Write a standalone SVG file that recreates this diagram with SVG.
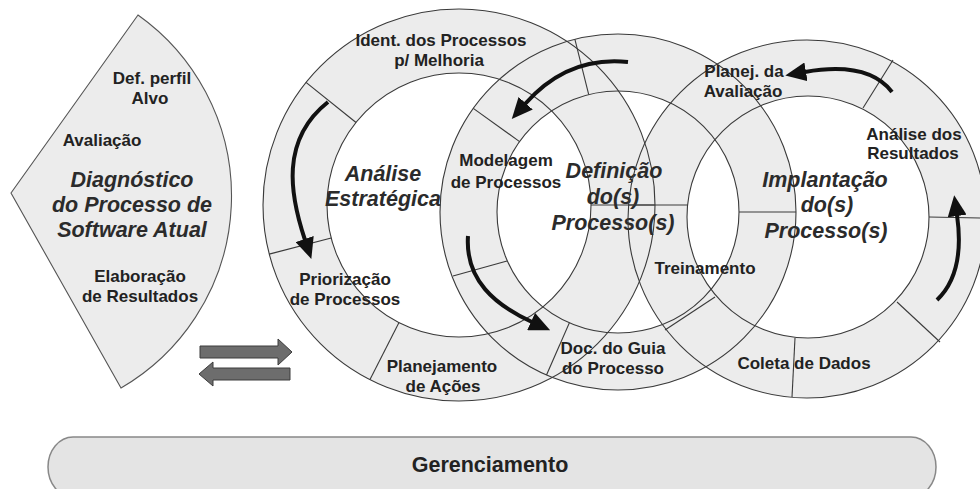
<svg xmlns="http://www.w3.org/2000/svg" width="980" height="489" viewBox="0 0 980 489">
<defs>
<style>
.band{fill:#ececec;fill-rule:evenodd;stroke:none}
.ol{fill:none;stroke:#3a3a3a;stroke-width:1.1}
.dv{stroke:#3a3a3a;stroke-width:1.1}
.lbl{font-family:"Liberation Sans",Arial,sans-serif;font-weight:bold;font-size:17px;fill:#222;text-anchor:middle}
.ttl{font-family:"Liberation Sans",Arial,sans-serif;font-weight:bold;font-style:italic;font-size:21.5px;fill:#2b2b2b;text-anchor:middle}
.cv{fill:none;stroke:#111;stroke-width:4;marker-end:url(#ah)}
.dbl{fill:#6d6d6d;stroke:#3c3c3c;stroke-width:1}
</style>
<marker id="ah" markerUnits="userSpaceOnUse" markerWidth="21" markerHeight="19" refX="1" refY="9.5" orient="auto"><path d="M0,0 L21,9.5 L0,19 Z" fill="#111"/></marker>
</defs>
<rect width="980" height="489" fill="#fff"/>

<g id="band-fills">
<path class="band" d="M263,205 a196,196 0 1,0 392,0 a196,196 0 1,0 -392,0 Z M327,205 a132,132 0 1,0 264,0 a132,132 0 1,0 -264,0 Z"/>
<path class="band" d="M440,212 a178,178 0 1,0 356,0 a178,178 0 1,0 -356,0 Z M497,212 a121,121 0 1,0 242,0 a121,121 0 1,0 -242,0 Z"/>
<path class="band" d="M628,219 a179,179 0 1,0 358,0 a179,179 0 1,0 -358,0 Z M687,217 a121,121 0 1,0 242,0 a121,121 0 1,0 -242,0 Z"/>
</g>

<g id="node-diagnostico">
<path d="M138,15 L11,193 L121,388 A222,222 0 0,0 138,15 Z" fill="#ececec" stroke="#555" stroke-width="1.1"/>
<text class="lbl" x="152" y="84">Def. perfil</text>
<text class="lbl" x="150" y="104">Alvo</text>
<text class="lbl" x="102" y="146">Avaliação</text>
<text class="ttl" x="132" y="187">Diagnóstico</text>
<text class="ttl" x="132" y="212">do Processo de</text>
<text class="ttl" x="132" y="237">Software Atual</text>
<text class="lbl" x="140" y="282">Elaboração</text>
<text class="lbl" x="140" y="302">de Resultados</text>
</g>

<g id="node-analise">
<circle class="ol" cx="459" cy="205" r="196"/>
<circle class="ol" cx="459" cy="205" r="132"/>
<line class="dv" x1="306" y1="82.4" x2="356" y2="122.5"/>
<line class="dv" x1="269.2" y1="254.1" x2="331.2" y2="238"/>
<line class="dv" x1="370" y1="379.6" x2="399" y2="322.6"/>
<line class="dv" x1="591" y1="205" x2="655" y2="205"/>
<text class="lbl" x="441" y="46">Ident. dos Processos</text>
<text class="lbl" x="439" y="66">p/ Melhoria</text>
<text class="ttl" x="383" y="181">Análise</text>
<text class="ttl" x="383" y="206">Estratégica</text>
<text class="lbl" x="345" y="285">Priorização</text>
<text class="lbl" x="345" y="305">de Processos</text>
<text class="lbl" x="442" y="372">Planejamento</text>
<text class="lbl" x="443" y="392">de Ações</text>
</g>

<g id="node-definicao">
<circle class="ol" cx="618" cy="212" r="178"/>
<circle class="ol" cx="618" cy="212" r="121"/>
<line class="dv" x1="574.9" y1="39.3" x2="588.7" y2="94.6"/>
<line class="dv" x1="473.3" y1="108.4" x2="519.6" y2="141.6"/>
<line class="dv" x1="453" y1="276" x2="507" y2="261"/>
<line class="dv" x1="546.5" y1="375" x2="569.4" y2="322.8"/>
<line class="dv" x1="739" y1="212" x2="796" y2="212"/>
<text class="lbl" x="506" y="166">Modelagem</text>
<text class="lbl" x="506" y="188">de Processos</text>
<text class="ttl" x="614" y="178">Definição</text>
<text class="ttl" x="613" y="204">do(s)</text>
<text class="ttl" x="613" y="230">Processo(s)</text>
<text class="lbl" x="613" y="354">Doc. do Guia</text>
<text class="lbl" x="613" y="374">do Processo</text>
</g>

<g id="node-implantacao">
<circle class="ol" cx="807" cy="219" r="179"/>
<circle class="ol" cx="808" cy="217" r="121"/>
<line class="dv" x1="628.5" y1="205" x2="687.6" y2="205"/>
<line class="dv" x1="665" y1="330" x2="715" y2="297"/>
<line class="dv" x1="795" y1="338" x2="792" y2="397"/>
<line class="dv" x1="897" y1="302" x2="940" y2="342"/>
<line class="dv" x1="929" y1="217" x2="980" y2="218"/>
<line class="dv" x1="893" y1="60" x2="863" y2="108"/>
<text class="lbl" x="705" y="274">Treinamento</text>
<text class="lbl" x="744" y="77">Planej. da</text>
<text class="lbl" x="743" y="97">Avaliação</text>
<text class="lbl" x="914" y="140">Análise dos</text>
<text class="lbl" x="913" y="159">Resultados</text>
<text class="ttl" x="825" y="187">Implantação</text>
<text class="ttl" x="827" y="212">do(s)</text>
<text class="ttl" x="826" y="238">Processo(s)</text>
<text class="lbl" x="804" y="369">Coleta de Dados</text>
</g>

<g id="node-gerenciamento">
<rect x="48" y="437" width="888" height="60" rx="25" ry="30" fill="#e4e4e4" stroke="#888" stroke-width="1.5"/>
<text class="lbl" x="490" y="472" style="font-size:21.5px">Gerenciamento</text>
</g>

<g id="connectors">
<path class="cv" d="M328,102 C280,140 290,195 305,240"/>
<path class="cv" d="M628,62 C590,58 555,70 525,104"/>
<path class="cv" d="M468,236 C465,280 495,305 532,322"/>
<path class="cv" d="M892,92 C875,70 845,65 805,72"/>
<path class="cv" d="M937,300 C958,280 962,250 957,215"/>
<polygon class="dbl" points="200,346 278,346 278,339 292,352 278,365 278,358 200,358"/>
<polygon class="dbl" points="290,368 213,368 213,362 199,374 213,386 213,380 290,380"/>
</g>
</svg>
